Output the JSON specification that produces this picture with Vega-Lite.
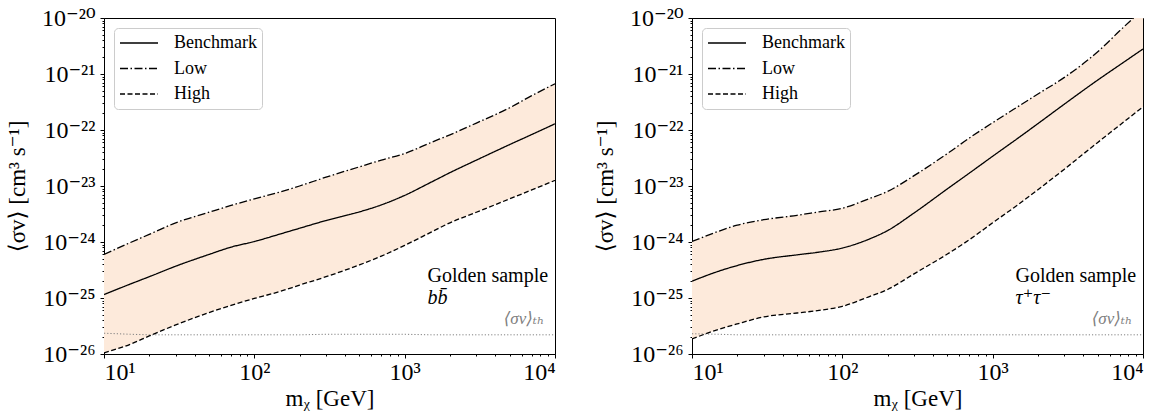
{
"$schema": "https://vega.github.io/schema/vega-lite/v6.json",
"background": "white",
"padding": 5,
"config": {
  "font": "Liberation Serif, DejaVu Serif",
  "view": {"stroke": "black", "strokeWidth": 1},
  "axis": {"grid": false, "domainColor": "black", "tickColor": "black", "labelColor": "black", "titleColor": "black", "labelFontSize": 24, "titleFontSize": 23, "titleFontWeight": "normal", "labelOverlap": false, "tickWidth": 1, "domainWidth": 1, "labelFont": "Liberation Serif, DejaVu Serif", "titleFont": "Liberation Serif, DejaVu Serif"},
  "legend": {"labelFont": "Liberation Serif, DejaVu Serif"},
  "text": {"font": "Liberation Serif, DejaVu Serif"}
},
"datasets": {
  "bb": [
    {"m": 10, "Low": 6.0e-25, "Benchmark": 1.15e-25, "High": 1.05e-26, "th": 2.35e-26},
    {"m": 15, "Low": 9.8e-25, "Benchmark": 1.78e-25, "High": 1.5e-26, "th": 2.25e-26},
    {"m": 20, "Low": 1.37e-24, "Benchmark": 2.4e-25, "High": 2.1e-26, "th": 2.2e-26},
    {"m": 30, "Low": 2.2e-24, "Benchmark": 3.7e-25, "High": 3.3e-26, "th": 2.2e-26},
    {"m": 50, "Low": 3.4e-24, "Benchmark": 6.0e-25, "High": 5.5e-26, "th": 2.2e-26},
    {"m": 70, "Low": 4.5e-24, "Benchmark": 8.1e-25, "High": 7.4e-26, "th": 2.2e-26},
    {"m": 100, "Low": 5.9e-24, "Benchmark": 1.02e-24, "High": 9.8e-26, "th": 2.2e-26},
    {"m": 150, "Low": 7.9e-24, "Benchmark": 1.4e-24, "High": 1.32e-25, "th": 2.2e-26},
    {"m": 200, "Low": 1.0e-23, "Benchmark": 1.76e-24, "High": 1.7e-25, "th": 2.2e-26},
    {"m": 300, "Low": 1.44e-23, "Benchmark": 2.42e-24, "High": 2.4e-25, "th": 2.25e-26},
    {"m": 500, "Low": 2.2e-23, "Benchmark": 3.45e-24, "High": 3.9e-25, "th": 2.25e-26},
    {"m": 700, "Low": 2.9e-23, "Benchmark": 4.6e-24, "High": 5.6e-25, "th": 2.25e-26},
    {"m": 1000, "Low": 3.8e-23, "Benchmark": 6.8e-24, "High": 8.7e-25, "th": 2.25e-26},
    {"m": 1500, "Low": 6.0e-23, "Benchmark": 1.17e-23, "High": 1.5e-24, "th": 2.2e-26},
    {"m": 2000, "Low": 8.2e-23, "Benchmark": 1.73e-23, "High": 2.2e-24, "th": 2.2e-26},
    {"m": 3000, "Low": 1.33e-22, "Benchmark": 2.9e-23, "High": 3.4e-24, "th": 2.2e-26},
    {"m": 5000, "Low": 2.5e-22, "Benchmark": 5.5e-23, "High": 5.9e-24, "th": 2.2e-26},
    {"m": 7000, "Low": 4.1e-22, "Benchmark": 8.3e-23, "High": 8.5e-24, "th": 2.2e-26},
    {"m": 10000, "Low": 6.7e-22, "Benchmark": 1.29e-22, "High": 1.26e-23, "th": 2.2e-26}
  ],
  "tau": [
    {"m": 10, "Low": 1.02e-24, "Benchmark": 2.0e-25, "High": 1.86e-26, "th": 2.3e-26},
    {"m": 15, "Low": 1.55e-24, "Benchmark": 3.0e-25, "High": 2.75e-26, "th": 2.25e-26},
    {"m": 20, "Low": 2.0e-24, "Benchmark": 3.8e-25, "High": 3.45e-26, "th": 2.2e-26},
    {"m": 30, "Low": 2.5e-24, "Benchmark": 4.9e-25, "High": 4.6e-26, "th": 2.2e-26},
    {"m": 50, "Low": 3.0e-24, "Benchmark": 5.9e-25, "High": 5.4e-26, "th": 2.2e-26},
    {"m": 70, "Low": 3.45e-24, "Benchmark": 6.6e-25, "High": 6.0e-26, "th": 2.2e-26},
    {"m": 100, "Low": 4.0e-24, "Benchmark": 7.8e-25, "High": 7.1e-26, "th": 2.2e-26},
    {"m": 150, "Low": 5.9e-24, "Benchmark": 1.12e-24, "High": 1.05e-25, "th": 2.2e-26},
    {"m": 200, "Low": 8.0e-24, "Benchmark": 1.6e-24, "High": 1.42e-25, "th": 2.2e-26},
    {"m": 300, "Low": 1.53e-23, "Benchmark": 3.3e-24, "High": 2.7e-25, "th": 2.2e-26},
    {"m": 500, "Low": 3.8e-23, "Benchmark": 8.9e-24, "High": 6.1e-25, "th": 2.2e-26},
    {"m": 700, "Low": 7.2e-23, "Benchmark": 1.7e-23, "High": 1.1e-24, "th": 2.2e-26},
    {"m": 1000, "Low": 1.35e-22, "Benchmark": 3.4e-23, "High": 2.2e-24, "th": 2.2e-26},
    {"m": 1500, "Low": 2.7e-22, "Benchmark": 7.4e-23, "High": 4.8e-24, "th": 2.2e-26},
    {"m": 2000, "Low": 4.4e-22, "Benchmark": 1.3e-22, "High": 8.6e-24, "th": 2.2e-26},
    {"m": 3000, "Low": 8.7e-22, "Benchmark": 2.9e-22, "High": 2.0e-23, "th": 2.2e-26},
    {"m": 5000, "Low": 2.5e-21, "Benchmark": 7.8e-22, "High": 6.0e-23, "th": 2.2e-26},
    {"m": 7000, "Low": 5.9e-21, "Benchmark": 1.45e-21, "High": 1.22e-22, "th": 2.2e-26},
    {"m": 10000, "Low": 1.45e-20, "Benchmark": 2.8e-21, "High": 2.6e-22, "th": 2.2e-26}
  ]
},
"spacing": 37,
"resolve": {"scale": {"strokeDash": "independent"}},
"hconcat": [
  {
    "width": 451, "height": 336,
    "data": {"name": "bb"},
    "layer": [
      {"mark": {"type": "area", "color": "#fdeadb", "clip": true, "interpolate": "monotone"},
       "encoding": {
         "x": {"field": "m", "type": "quantitative", "scale": {"type": "log", "domain": [10, 10000], "nice": false},
               "axis": {"title": "mᵪ [GeV]", "values": [10,20,30,40,50,60,70,80,90,100,200,300,400,500,600,700,800,900,1000,2000,3000,4000,5000,6000,7000,8000,9000,10000],
                        "labelExpr": "abs(log(datum.value)/LN10 - round(log(datum.value)/LN10)) < 0.001 ? ['10¹','10²','10³','10⁴'][round(log(datum.value)/LN10)-1] : ''",
                        "tickSize": {"condition": {"test": "abs(log(datum.value)/LN10 - round(log(datum.value)/LN10)) < 0.001", "value": 4}, "value": 2},
                        "labelPadding": 2, "titlePadding": 3}},
         "y": {"field": "Low", "type": "quantitative", "scale": {"type": "log", "domain": [1e-26, 1e-20], "nice": false},
               "axis": {"title": "⟨σv⟩ [cm³ s⁻¹]", "values": [1e-26,2e-26,3e-26,4e-26,5e-26,6e-26,7e-26,8e-26,9e-26,1e-25,2e-25,3e-25,4e-25,5e-25,6e-25,7e-25,8e-25,9e-25,1e-24,2e-24,3e-24,4e-24,5e-24,6e-24,7e-24,8e-24,9e-24,1e-23,2e-23,3e-23,4e-23,5e-23,6e-23,7e-23,8e-23,9e-23,1e-22,2e-22,3e-22,4e-22,5e-22,6e-22,7e-22,8e-22,9e-22,1e-21,2e-21,3e-21,4e-21,5e-21,6e-21,7e-21,8e-21,9e-21,1e-20],
                        "labelExpr": "abs(log(datum.value)/LN10 - round(log(datum.value)/LN10)) < 0.001 ? ['10⁻²⁶','10⁻²⁵','10⁻²⁴','10⁻²³','10⁻²²','10⁻²¹','10⁻²⁰'][round(log(datum.value)/LN10)+26] : ''",
                        "tickSize": {"condition": {"test": "abs(log(datum.value)/LN10 - round(log(datum.value)/LN10)) < 0.001", "value": 4}, "value": 2},
                        "labelPadding": 5, "minExtent": 69, "maxExtent": 69, "titlePadding": 6}},
         "y2": {"field": "High"}
       }},
      {"mark": {"type": "line", "color": "#808080", "strokeDash": [1.2, 2], "strokeWidth": 1, "clip": true},
       "encoding": {"x": {"field": "m", "type": "quantitative"}, "y": {"field": "th", "type": "quantitative"}}},
      {"transform": [{"fold": ["Benchmark", "Low", "High"], "as": ["series", "v"]}],
       "mark": {"type": "line", "color": "black", "strokeWidth": 1.3, "clip": true, "interpolate": "monotone"},
       "encoding": {
         "x": {"field": "m", "type": "quantitative"},
         "y": {"field": "v", "type": "quantitative"},
         "strokeDash": {"field": "series", "type": "nominal",
           "scale": {"domain": ["Benchmark", "Low", "High"], "range": [[1, 0], [8, 2.5, 1.5, 2.5], [5, 2.5]]},
           "legend": {"title": null, "orient": "top-left", "offset": 10, "clipHeight": 20, "symbolType": "stroke", "symbolSize": 1444, "symbolStrokeWidth": 1.5, "symbolStrokeColor": "black", "labelFontSize": 18, "labelOffset": 15, "padding": 5, "rowPadding": 5.5, "fillColor": "white", "strokeColor": "#cccccc", "cornerRadius": 4, "labelColor": "black"}}
       }},
      {"data": {"values": [{}]},
       "mark": {"type": "text", "text": "Golden sample", "align": "left", "baseline": "alphabetic", "fontSize": 20, "color": "black"},
       "encoding": {"x": {"datum": 1420, "type": "quantitative"}, "y": {"datum": 1.93e-25, "type": "quantitative"}}},
      {"data": {"values": [{}]},
       "mark": {"type": "text", "text": "bb̄", "align": "left", "baseline": "alphabetic", "fontSize": 20, "fontStyle": "italic", "color": "black"},
       "encoding": {"x": {"datum": 1420, "type": "quantitative"}, "y": {"datum": 7.7e-26, "type": "quantitative"}}},
      {"data": {"values": [{}]},
       "mark": {"type": "text", "text": "⟨σv⟩ₜₕ", "align": "right", "baseline": "alphabetic", "fontSize": 17, "fontStyle": "italic", "color": "#808080"},
       "encoding": {"x": {"datum": 8500, "type": "quantitative"}, "y": {"datum": 3.5e-26, "type": "quantitative"}}}
    ]
  },
  {
    "width": 451, "height": 336,
    "data": {"name": "tau"},
    "layer": [
      {"mark": {"type": "area", "color": "#fdeadb", "clip": true, "interpolate": "monotone"},
       "encoding": {
         "x": {"field": "m", "type": "quantitative", "scale": {"type": "log", "domain": [10, 10000], "nice": false},
               "axis": {"title": "mᵪ [GeV]", "values": [10,20,30,40,50,60,70,80,90,100,200,300,400,500,600,700,800,900,1000,2000,3000,4000,5000,6000,7000,8000,9000,10000],
                        "labelExpr": "abs(log(datum.value)/LN10 - round(log(datum.value)/LN10)) < 0.001 ? ['10¹','10²','10³','10⁴'][round(log(datum.value)/LN10)-1] : ''",
                        "tickSize": {"condition": {"test": "abs(log(datum.value)/LN10 - round(log(datum.value)/LN10)) < 0.001", "value": 4}, "value": 2},
                        "labelPadding": 2, "titlePadding": 3}},
         "y": {"field": "Low", "type": "quantitative", "scale": {"type": "log", "domain": [1e-26, 1e-20], "nice": false},
               "axis": {"title": "⟨σv⟩ [cm³ s⁻¹]", "values": [1e-26,2e-26,3e-26,4e-26,5e-26,6e-26,7e-26,8e-26,9e-26,1e-25,2e-25,3e-25,4e-25,5e-25,6e-25,7e-25,8e-25,9e-25,1e-24,2e-24,3e-24,4e-24,5e-24,6e-24,7e-24,8e-24,9e-24,1e-23,2e-23,3e-23,4e-23,5e-23,6e-23,7e-23,8e-23,9e-23,1e-22,2e-22,3e-22,4e-22,5e-22,6e-22,7e-22,8e-22,9e-22,1e-21,2e-21,3e-21,4e-21,5e-21,6e-21,7e-21,8e-21,9e-21,1e-20],
                        "labelExpr": "abs(log(datum.value)/LN10 - round(log(datum.value)/LN10)) < 0.001 ? ['10⁻²⁶','10⁻²⁵','10⁻²⁴','10⁻²³','10⁻²²','10⁻²¹','10⁻²⁰'][round(log(datum.value)/LN10)+26] : ''",
                        "tickSize": {"condition": {"test": "abs(log(datum.value)/LN10 - round(log(datum.value)/LN10)) < 0.001", "value": 4}, "value": 2},
                        "labelPadding": 5, "minExtent": 69, "maxExtent": 69, "titlePadding": 6}},
         "y2": {"field": "High"}
       }},
      {"mark": {"type": "line", "color": "#808080", "strokeDash": [1.2, 2], "strokeWidth": 1, "clip": true},
       "encoding": {"x": {"field": "m", "type": "quantitative"}, "y": {"field": "th", "type": "quantitative"}}},
      {"transform": [{"fold": ["Benchmark", "Low", "High"], "as": ["series", "v"]}],
       "mark": {"type": "line", "color": "black", "strokeWidth": 1.3, "clip": true, "interpolate": "monotone"},
       "encoding": {
         "x": {"field": "m", "type": "quantitative"},
         "y": {"field": "v", "type": "quantitative"},
         "strokeDash": {"field": "series", "type": "nominal",
           "scale": {"domain": ["Benchmark", "Low", "High"], "range": [[1, 0], [8, 2.5, 1.5, 2.5], [5, 2.5]]},
           "legend": {"title": null, "orient": "top-left", "offset": 10, "clipHeight": 20, "symbolType": "stroke", "symbolSize": 1444, "symbolStrokeWidth": 1.5, "symbolStrokeColor": "black", "labelFontSize": 18, "labelOffset": 15, "padding": 5, "rowPadding": 5.5, "fillColor": "white", "strokeColor": "#cccccc", "cornerRadius": 4, "labelColor": "black"}}
       }},
      {"data": {"values": [{}]},
       "mark": {"type": "text", "text": "Golden sample", "align": "left", "baseline": "alphabetic", "fontSize": 20, "color": "black"},
       "encoding": {"x": {"datum": 1420, "type": "quantitative"}, "y": {"datum": 1.93e-25, "type": "quantitative"}}},
      {"data": {"values": [{}]},
       "mark": {"type": "text", "text": "τ⁺τ⁻", "align": "left", "baseline": "alphabetic", "fontSize": 20, "fontStyle": "italic", "color": "black"},
       "encoding": {"x": {"datum": 1420, "type": "quantitative"}, "y": {"datum": 7.7e-26, "type": "quantitative"}}},
      {"data": {"values": [{}]},
       "mark": {"type": "text", "text": "⟨σv⟩ₜₕ", "align": "right", "baseline": "alphabetic", "fontSize": 17, "fontStyle": "italic", "color": "#808080"},
       "encoding": {"x": {"datum": 8500, "type": "quantitative"}, "y": {"datum": 3.5e-26, "type": "quantitative"}}}
    ]
  }
]
}
